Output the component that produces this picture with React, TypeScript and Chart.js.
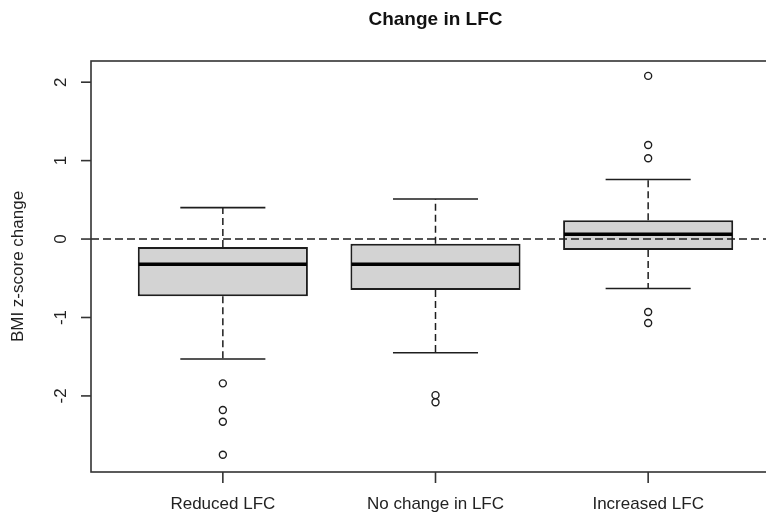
import React, { useEffect, useRef } from "react";
import { Chart, registerables } from "chart.js";

Chart.register(...registerables);

const title = "Change in LFC";
const yAxisLabel = "BMI z-score change";
const categories = ["Reduced LFC", "No change in LFC", "Increased LFC"];
const lowerWhisker = [-1.53, -1.45, -0.63];
const q1 = [-0.73, -0.65, -0.14];
const median = [-0.32, -0.32, 0.06];
const q3 = [-0.1, -0.06, 0.24];
const upperWhisker = [0.4, 0.51, 0.76];
const outliers = [
  [-1.84, -2.18, -2.33, -2.75],
  [-1.99, -2.08],
  [2.08, 1.2, 1.03, -0.93, -1.07],
];
const yTicks = [-2, -1, 0, 1, 2];
const xMin = 0.38;
const xMax = 3.62;
const yMin = -2.97;
const yMax = 2.27;

const FONT = "'Liberation Sans', Arial, sans-serif";
const INK = "#1e1e1e";

const boxPlugin = {
  id: "rbox",
  afterDatasetsDraw(chart: any) {
    const ctx = chart.ctx as CanvasRenderingContext2D;
    const xs = chart.scales.x;
    const ys = chart.scales.y;
    const { left, right, top, bottom } = chart.chartArea;
    const unit = xs.getPixelForValue(2) - xs.getPixelForValue(1);
    ctx.save();
    // zero reference line
    ctx.strokeStyle = INK;
    ctx.lineWidth = 1.6;
    ctx.setLineDash([8, 4]);
    const y0 = ys.getPixelForValue(0);
    ctx.beginPath();
    ctx.moveTo(left, y0);
    ctx.lineTo(right, y0);
    ctx.stroke();

    categories.forEach((_, i) => {
      const cx = xs.getPixelForValue(i + 1);
      // whiskers (dashed)
      ctx.setLineDash([7, 4]);
      ctx.lineWidth = 1.5;
      ctx.beginPath();
      ctx.moveTo(cx, ys.getPixelForValue(q3[i]));
      ctx.lineTo(cx, ys.getPixelForValue(upperWhisker[i]));
      ctx.moveTo(cx, ys.getPixelForValue(q1[i]));
      ctx.lineTo(cx, ys.getPixelForValue(lowerWhisker[i]));
      ctx.stroke();
      // staples
      ctx.setLineDash([]);
      ctx.lineWidth = 1.6;
      const half = unit * 0.2;
      ctx.beginPath();
      let py = ys.getPixelForValue(upperWhisker[i]);
      ctx.moveTo(cx - half, py);
      ctx.lineTo(cx + half, py);
      py = ys.getPixelForValue(lowerWhisker[i]);
      ctx.moveTo(cx - half, py);
      ctx.lineTo(cx + half, py);
      ctx.stroke();
      // median
      const bh = unit * 0.4;
      ctx.lineWidth = 3.5;
      ctx.strokeStyle = "#000";
      ctx.beginPath();
      py = ys.getPixelForValue(median[i]);
      ctx.moveTo(cx - bh + 1, py);
      ctx.lineTo(cx + bh - 1, py);
      ctx.stroke();
      ctx.strokeStyle = INK;
    });

    // frame
    ctx.setLineDash([]);
    ctx.lineWidth = 1.6;
    ctx.strokeStyle = "#333";
    ctx.strokeRect(left, top, right - left, bottom - top);

    // y ticks and labels
    ctx.fillStyle = "#222";
    ctx.font = `17px ${FONT}`;
    ctx.textAlign = "center";
    ctx.textBaseline = "middle";
    yTicks.forEach((t) => {
      const py = ys.getPixelForValue(t);
      ctx.beginPath();
      ctx.moveTo(left - 10, py);
      ctx.lineTo(left, py);
      ctx.stroke();
      ctx.save();
      ctx.translate(61, py);
      ctx.rotate(-Math.PI / 2);
      ctx.fillText(String(t), 0, 0);
      ctx.restore();
    });
    // x ticks and labels
    categories.forEach((c, i) => {
      const px = xs.getPixelForValue(i + 1);
      ctx.beginPath();
      ctx.moveTo(px, bottom);
      ctx.lineTo(px, bottom + 11);
      ctx.stroke();
      ctx.fillText(c, px, 504);
    });
    // y axis label
    ctx.save();
    ctx.translate(18, (top + bottom) / 2);
    ctx.rotate(-Math.PI / 2);
    ctx.fillText(yAxisLabel, 0, 0);
    ctx.restore();
    // title
    ctx.font = `bold 19px ${FONT}`;
    ctx.fillStyle = "#111";
    ctx.fillText(title, (left + right) / 2, 20);
    ctx.restore();
  },
};

export default function App() {
  const ref = useRef<HTMLCanvasElement | null>(null);
  useEffect(() => {
    if (!ref.current) return;
    const chart = new Chart(ref.current, {
      type: "bar",
      data: {
        datasets: [
          {
            type: "bar",
            data: categories.map((_, i) => ({ x: i + 1, y: [q1[i], q3[i]] })) as any,
            backgroundColor: "#d3d3d3",
            borderColor: INK,
            borderWidth: 2,
            borderSkipped: false,
            categoryPercentage: 1,
            barPercentage: 0.8,
          } as any,
          {
            type: "scatter",
            data: outliers.flatMap((arr, i) => arr.map((v) => ({ x: i + 1, y: v }))) as any,
            pointStyle: "circle",
            pointRadius: 3.5,
            pointBorderWidth: 1.4,
            borderColor: INK,
            backgroundColor: "#fff",
          } as any,
        ],
      },
      options: {
        animation: false,
        responsive: false,
        layout: { padding: { left: 91, top: 61, right: 20, bottom: 40 } },
        plugins: { legend: { display: false }, tooltip: { enabled: false }, title: { display: false } },
        scales: {
          x: {
            type: "linear",
            display: false,
            min: xMin,
            max: xMax,
            offset: false,
            afterBuildTicks: (s: any) => {
              s.ticks = categories.map((_, i) => ({ value: i + 1 }));
            },
          },
          y: { type: "linear", display: false, min: yMin, max: yMax },
        },
      },
      plugins: [boxPlugin],
    });
    return () => chart.destroy();
  }, []);
  return (
    <canvas
      ref={ref}
      width={800}
      height={512}
      style={{ position: "fixed", left: 0, top: 0, width: 800, height: 512, display: "block", background: "#fff" }}
    />
  );
}
